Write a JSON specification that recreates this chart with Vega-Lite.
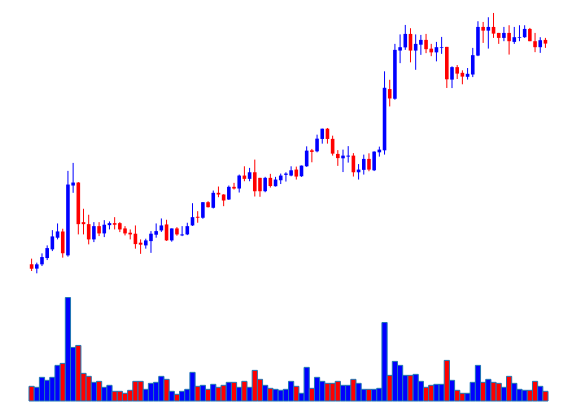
{
  "$schema": "https://vega.github.io/schema/vega-lite/v6.json",
  "width": 576,
  "height": 402,
  "autosize": {"type": "fit", "contains": "padding"},
  "padding": 0,
  "background": "white",
  "config": {"view": {"stroke": null}},
  "data": {"values": [
    {"i":1,"open":35,"close":30.7,"high":40.7,"low":28.3,"volume":14.7},
    {"i":2,"open":30.7,"close":35,"high":36.7,"low":26,"volume":13.7},
    {"i":3,"open":35,"close":42.3,"high":46,"low":33.3,"volume":23.7},
    {"i":4,"open":41.3,"close":51.3,"high":54,"low":39.3,"volume":20.7},
    {"i":5,"open":50,"close":63,"high":69.3,"low":48.3,"volume":23.7},
    {"i":6,"open":61.7,"close":68,"high":76,"low":60,"volume":35.7},
    {"i":7,"open":68,"close":46,"high":70.7,"low":41.7,"volume":37.7},
    {"i":8,"open":44,"close":115,"high":128.7,"low":42.7,"volume":103.7},
    {"i":9,"open":114,"close":117,"high":136.7,"low":106.7,"volume":53.7},
    {"i":10,"open":117,"close":75.3,"high":117.5,"low":65,"volume":55.7},
    {"i":11,"open":77.3,"close":75.3,"high":90.7,"low":65,"volume":27.7},
    {"i":12,"open":75.3,"close":60,"high":84.7,"low":55,"volume":24.7},
    {"i":13,"open":60,"close":73.3,"high":77.3,"low":57.3,"volume":18.7},
    {"i":14,"open":73.3,"close":66,"high":77.3,"low":63.3,"volume":19.7},
    {"i":15,"open":66,"close":74.7,"high":79.3,"low":62.3,"volume":13.7},
    {"i":16,"open":74.3,"close":76.3,"high":78,"low":70,"volume":15.7},
    {"i":17,"open":76.3,"close":74.7,"high":82.3,"low":70,"volume":9.7},
    {"i":18,"open":76.3,"close":70,"high":77.3,"low":67.3,"volume":9.7},
    {"i":19,"open":71,"close":66,"high":73.3,"low":64,"volume":7.7},
    {"i":20,"open":66.7,"close":65,"high":70,"low":60,"volume":10.7},
    {"i":21,"open":65.7,"close":55.3,"high":74,"low":50.7,"volume":19.7},
    {"i":22,"open":56.7,"close":54.7,"high":60,"low":45.5,"volume":19.7},
    {"i":23,"open":54,"close":59,"high":60.7,"low":50.7,"volume":11.7},
    {"i":24,"open":58.3,"close":65.7,"high":68.3,"low":46.5,"volume":17.7},
    {"i":25,"open":64.7,"close":68.3,"high":76,"low":61.7,"volume":18.7},
    {"i":26,"open":69,"close":74,"high":81,"low":67.5,"volume":24.7},
    {"i":27,"open":75,"close":59,"high":79.7,"low":58.5,"volume":21.7},
    {"i":28,"open":59,"close":71,"high":71,"low":57.7,"volume":9.7},
    {"i":29,"open":71,"close":65,"high":72.3,"low":63.7,"volume":6.7},
    {"i":30,"open":64,"close":65,"high":73.3,"low":63.3,"volume":9.7},
    {"i":31,"open":65,"close":73.3,"high":76.7,"low":64.3,"volume":11.7},
    {"i":32,"open":74,"close":82.3,"high":96.3,"low":73.5,"volume":28.7},
    {"i":33,"open":82.7,"close":81.7,"high":88.3,"low":76.7,"volume":14.7},
    {"i":34,"open":81.7,"close":97.3,"high":97.3,"low":80.7,"volume":15.7},
    {"i":35,"open":97.3,"close":92.3,"high":98.3,"low":92,"volume":11.7},
    {"i":36,"open":91.7,"close":106.7,"high":109,"low":91,"volume":16.7},
    {"i":37,"open":106.7,"close":105,"high":113,"low":102.3,"volume":13.7},
    {"i":38,"open":105,"close":99,"high":105.3,"low":93.3,"volume":15.7},
    {"i":39,"open":100,"close":112.7,"high":114,"low":99.5,"volume":18.7},
    {"i":40,"open":112.7,"close":111,"high":116.7,"low":110,"volume":18.7},
    {"i":41,"open":111,"close":124,"high":125,"low":107,"volume":13.7},
    {"i":42,"open":124,"close":120.7,"high":133.3,"low":118.3,"volume":19.7},
    {"i":43,"open":120.7,"close":127.3,"high":131.7,"low":118.3,"volume":13.7},
    {"i":44,"open":127.3,"close":108.3,"high":140,"low":103,"volume":30.7},
    {"i":45,"open":121.7,"close":108.3,"high":121.7,"low":102.7,"volume":21.7},
    {"i":46,"open":108.3,"close":121.7,"high":122.7,"low":107.3,"volume":15.7},
    {"i":47,"open":121.7,"close":113.5,"high":125.7,"low":112,"volume":12.7},
    {"i":48,"open":113.3,"close":120,"high":122.7,"low":113,"volume":11.7},
    {"i":49,"open":119.3,"close":124,"high":126,"low":115.5,"volume":10.7},
    {"i":50,"open":124.7,"close":126,"high":127.3,"low":118,"volume":11.7},
    {"i":51,"open":124,"close":129.3,"high":133.3,"low":123.3,"volume":19.7},
    {"i":52,"open":130,"close":123,"high":133,"low":120,"volume":14.7},
    {"i":53,"open":123.3,"close":134,"high":134,"low":122.7,"volume":7.7},
    {"i":54,"open":133.3,"close":149,"high":153.3,"low":132.7,"volume":33.7},
    {"i":55,"open":149.3,"close":147.7,"high":150.7,"low":137.3,"volume":12.7},
    {"i":56,"open":148.3,"close":161,"high":165,"low":147.3,"volume":23.7},
    {"i":57,"open":160.7,"close":171,"high":171,"low":156,"volume":19.7},
    {"i":58,"open":171,"close":160.7,"high":171.7,"low":156,"volume":17.7},
    {"i":59,"open":160.8,"close":146,"high":164,"low":144,"volume":17.7},
    {"i":60,"open":145.7,"close":141.5,"high":149.5,"low":133.7,"volume":19.7},
    {"i":61,"open":141.3,"close":144,"high":150,"low":127.5,"volume":15.7},
    {"i":62,"open":143,"close":144,"high":153.5,"low":137,"volume":15.7},
    {"i":63,"open":144,"close":127.3,"high":146.5,"low":123,"volume":21.7},
    {"i":64,"open":127.3,"close":130,"high":135.5,"low":120,"volume":17.7},
    {"i":65,"open":129.7,"close":140.7,"high":145,"low":125,"volume":11.7},
    {"i":66,"open":140.7,"close":130,"high":146.3,"low":128.3,"volume":11.7},
    {"i":67,"open":129.3,"close":148,"high":148.3,"low":128.5,"volume":11.7},
    {"i":68,"open":147.3,"close":150,"high":153,"low":143,"volume":12.7},
    {"i":69,"open":149.3,"close":212,"high":228.5,"low":145,"volume":78.7},
    {"i":70,"open":210.7,"close":201.3,"high":220,"low":193.3,"volume":25.7},
    {"i":71,"open":201,"close":250,"high":256,"low":200,"volume":39.7},
    {"i":72,"open":249.3,"close":252.7,"high":265.5,"low":236.7,"volume":35.7},
    {"i":73,"open":252.5,"close":266,"high":275,"low":250,"volume":25.7},
    {"i":74,"open":266,"close":249.3,"high":271.7,"low":237.5,"volume":25.7},
    {"i":75,"open":249.3,"close":256,"high":265.5,"low":230,"volume":26.7},
    {"i":76,"open":255.2,"close":260,"high":265,"low":245,"volume":19.7},
    {"i":77,"open":260,"close":250.7,"high":266,"low":246.7,"volume":13.7},
    {"i":78,"open":251.2,"close":247.5,"high":256,"low":243.7,"volume":15.7},
    {"i":79,"open":247.5,"close":252.7,"high":258,"low":238.5,"volume":16.7},
    {"i":80,"open":252,"close":252.7,"high":263,"low":246,"volume":16.7},
    {"i":81,"open":253,"close":220.5,"high":253,"low":211.8,"volume":40.7},
    {"i":82,"open":220.2,"close":232.7,"high":233.5,"low":211.7,"volume":20.7},
    {"i":83,"open":232.7,"close":226.2,"high":234.8,"low":220.8,"volume":10.7},
    {"i":84,"open":227,"close":223.2,"high":229.5,"low":215.5,"volume":7.7},
    {"i":85,"open":223,"close":226,"high":231.8,"low":220.2,"volume":7.7},
    {"i":86,"open":225.3,"close":244.7,"high":252,"low":222.7,"volume":18.7},
    {"i":87,"open":244.3,"close":273,"high":278.7,"low":243.7,"volume":35.7},
    {"i":88,"open":273,"close":269.3,"high":278,"low":257,"volume":18.7},
    {"i":89,"open":269.3,"close":273,"high":282.7,"low":251.3,"volume":21.7},
    {"i":90,"open":273,"close":266.3,"high":287,"low":262,"volume":18.7},
    {"i":91,"open":267,"close":262,"high":267,"low":256,"volume":17.7},
    {"i":92,"open":262,"close":267,"high":273,"low":258.7,"volume":13.7},
    {"i":93,"open":267,"close":258.7,"high":274.7,"low":245.3,"volume":24.7},
    {"i":94,"open":258,"close":262.7,"high":273,"low":256,"volume":17.7},
    {"i":95,"open":262,"close":262.7,"high":274.7,"low":258.7,"volume":11.7},
    {"i":96,"open":262.7,"close":271,"high":274.7,"low":262,"volume":10.7},
    {"i":97,"open":271,"close":258.7,"high":272,"low":258.7,"volume":10.7},
    {"i":98,"open":258.7,"close":252.7,"high":267,"low":247.7,"volume":19.7},
    {"i":99,"open":252.7,"close":259.7,"high":262.7,"low":247,"volume":14.7},
    {"i":100,"open":260,"close":256.3,"high":262,"low":252,"volume":9.7}
  ]},
  "encoding": {
    "x": {"field": "i", "type": "quantitative", "scale": {"domain": [-5.09, 105.89], "nice": false, "zero": false, "padding": 0}, "axis": null}
  },
  "layer": [
    {
      "encoding": {
        "color": {"condition": {"test": "datum.close > datum.open", "value": "#0000ff"}, "value": "#ff0000"}
      },
      "layer": [
        {
          "layer": [
            {
              "mark": {"type": "rule", "strokeWidth": 1},
              "encoding": {
                "y": {"field": "low", "type": "quantitative", "scale": {"domain": [-102, 300], "nice": false, "zero": false, "padding": 0}, "axis": null},
                "y2": {"field": "high"}
              }
            },
            {
              "mark": {"type": "bar", "size": 3.6},
              "encoding": {
                "y": {"field": "open", "type": "quantitative", "scale": {"domain": [-102, 300], "nice": false, "zero": false, "padding": 0}, "axis": null},
                "y2": {"field": "close"}
              }
            }
          ]
        },
        {
          "mark": {"type": "bar", "size": 5.19, "stroke": "#1f77b4", "strokeWidth": 1},
          "encoding": {
            "y": {"field": "volume", "type": "quantitative", "scale": {"domain": [0, 402], "nice": false, "zero": true, "padding": 0}, "axis": null}
          }
        }
      ],
      "resolve": {"scale": {"y": "independent"}}
    },
    {
      "data": {"values": [{"label": "PANews"}]},
      "mark": {"type": "text", "fontSize": 62, "fontWeight": "bold", "font": "Roboto", "align": "center", "baseline": "middle"},
      "encoding": {
        "text": {"field": "label", "type": "nominal"},
        "x": {"datum": 56, "type": "quantitative"},
        "y": {"datum": 98, "type": "quantitative", "scale": {"domain": [-102, 300], "nice": false, "zero": false, "padding": 0}, "axis": null},
        "color": {"value": "#f2f2f2"},
        "fillOpacity": {"value": 0.7},
        "stroke": {"value": "#bbbbbb"},
        "strokeWidth": {"value": 1.5},
        "strokeOpacity": {"value": 0.45}
      }
    }
  ],
  "resolve": {"scale": {"y": "independent"}}
}
